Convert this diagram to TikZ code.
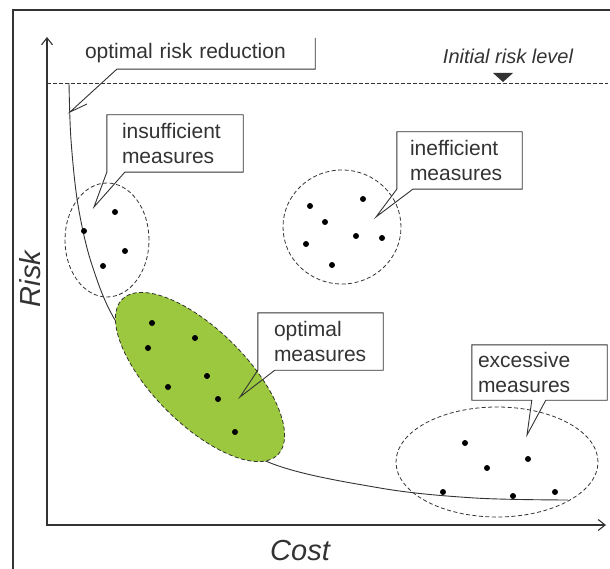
\documentclass[tikz,border=0pt]{standalone}
\usepackage{fontspec}
\setmainfont{Liberation Sans}
\usetikzlibrary{positioning, shapes.geometric, arrows.meta}
\definecolor{inkGray}{HTML}{333333}
\definecolor{optGreen}{HTML}{9BC83E}

\begin{document}
\begin{tikzpicture}[
  x=1pt, y=-1pt,
  >={Straight Barb[length=7pt, width=11pt]},
  axis/.style={<->, draw=inkGray, line width=1.1pt},
  frameline/.style={draw=inkGray, line width=1.3pt},
  level/.style={draw=inkGray, dash pattern=on 4pt off 2pt, line width=0.7pt},
  curveline/.style={draw=inkGray, line width=0.9pt},
  group/.style={ellipse, draw=inkGray, dash pattern=on 4pt off 2.5pt,
                line width=0.8pt, inner sep=0pt},
  dot/.style={circle, fill=black, inner sep=0pt, minimum size=6pt},
  callbox/.style={inner ysep=0pt, align=left, text=inkGray,
                  font=\fontsize{21}{25}\selectfont},
  callline/.style={draw=inkGray, line width=0.9pt},
  axislabel/.style={text=inkGray, font=\fontsize{29}{32}\selectfont\itshape}
]
  \useasboundingbox (0,0) rectangle (610,569);

  \draw[frameline] (13,569) -- (13,10) -- (610,10);

  \coordinate (origin) at (47,525);
  \coordinate (yTop) at (47,37);
  \coordinate (xEnd) at (606,525);
  \draw[axis] (yTop) -- (origin) -- (xEnd);

  \coordinate (levelL) at (47,83);
  \coordinate (levelR) at (608,83);
  \coordinate (levelMark) at (503,82);
  \draw[level] (levelL) -- (levelR);
  \fill[inkGray] (levelMark) -- ++(-10,-9) -- ++(20,0) -- cycle;
  \node[text=inkGray, font=\fontsize{20}{24}\selectfont\itshape]
    (levelText) at (508,56) {Initial risk level};

  \draw[curveline] plot[smooth, tension=0.55] coordinates
    {(69,83) (71,140) (78,205) (92,265) (118,325) (180,405)
     (268,462) (380,488) (475,498) (568,500)};

  \node[group, fill=optGreen, minimum width=220, minimum height=94,
        rotate=-45] (optGroup) at (200,377) {};
  \node[group, minimum width=84, minimum height=114] (insGroup) at (107,240) {};
  \node[group, minimum width=118, minimum height=114] (effGroup) at (342,227) {};
  \node[group, minimum width=202, minimum height=110] (excGroup) at (497,462) {};

  \node[dot] (ins1) at (115,212) {}; \node[dot] (ins2) at (84,231) {};
  \node[dot] (ins3) at (125,251) {}; \node[dot] (ins4) at (103,266) {};

  \node[dot] (eff1) at (363,199) {}; \node[dot] (eff2) at (310,206) {};
  \node[dot] (eff3) at (325,222) {}; \node[dot] (eff4) at (356,236) {};
  \node[dot] (eff5) at (382,238) {}; \node[dot] (eff6) at (306,244) {};
  \node[dot] (eff7) at (332,265) {};

  \node[dot] (opt1) at (152,323) {}; \node[dot] (opt2) at (195,338) {};
  \node[dot] (opt3) at (148,348) {}; \node[dot] (opt4) at (207,376) {};
  \node[dot] (opt5) at (168,387) {}; \node[dot] (opt6) at (218,399) {};
  \node[dot] (opt7) at (235,432) {};

  \node[dot] (exc1) at (465,443) {}; \node[dot] (exc2) at (528,459) {};
  \node[dot] (exc3) at (487,468) {}; \node[dot] (exc4) at (443,492) {};
  \node[dot] (exc5) at (513,496) {}; \node[dot] (exc6) at (555,492) {};

  \node[callbox, minimum height=31, text width=215, inner xsep=15]
    (riskCut) at (192.5,53.5) {optimal risk reduction};
  \node[callbox, minimum height=57, text width=106, inner xsep=15]
    (insBox) at (175,143.5) {insufficient\\measures};
  \node[callbox, minimum height=57, text width=99, inner xsep=13]
    (effBox) at (459.5,160.5) {inefficient\\measures};
  \node[callbox, minimum height=57, text width=93, inner xsep=16]
    (optBox) at (320.5,341.5) {optimal\\measures};
  \node[callbox, minimum height=55, text width=123, inner xsep=6]
    (excBox) at (539.5,372.5) {excessive\\measures};

  \coordinate (cutTip) at (70,112);
  \coordinate (cutBarb) at (87,104);
  \coordinate (insTip) at (94,207);
  \coordinate (effTip) at (376,217);
  \coordinate (optTip) at (240,397);
  \coordinate (excTip) at (527,435);

  \draw[callline] (riskCut.north east) -- (riskCut.south east)
    -- ([xshift=47pt]riskCut.south west) -- (cutTip) -- (cutBarb);
  \draw[callline] (insBox.south west) -- (insBox.north west) -- (insBox.north east)
    -- (insBox.south east) -- ([xshift=18pt]insBox.south west) -- (insTip) -- cycle;
  \draw[callline] (effBox.south west) -- (effBox.north west) -- (effBox.north east)
    -- (effBox.south east) -- ([xshift=16pt]effBox.south west) -- (effTip) -- cycle;
  \draw[callline] (optBox.south west) -- (optBox.north west) -- (optBox.north east)
    -- (optBox.south east) -- ([xshift=17pt]optBox.south west) -- (optTip) -- cycle;
  \draw[callline] ([xshift=60pt]excBox.south west) -- (excBox.south west)
    -- (excBox.north west) -- (excBox.north east) -- (excBox.south east)
    -- ([xshift=74pt]excBox.south west) -- (excTip) -- cycle;

  \node[axislabel, rotate=90] (riskLabel) at (30,279) {Risk};
  \node[axislabel] (costLabel) at (300,551) {Cost};
\end{tikzpicture}
\end{document}
